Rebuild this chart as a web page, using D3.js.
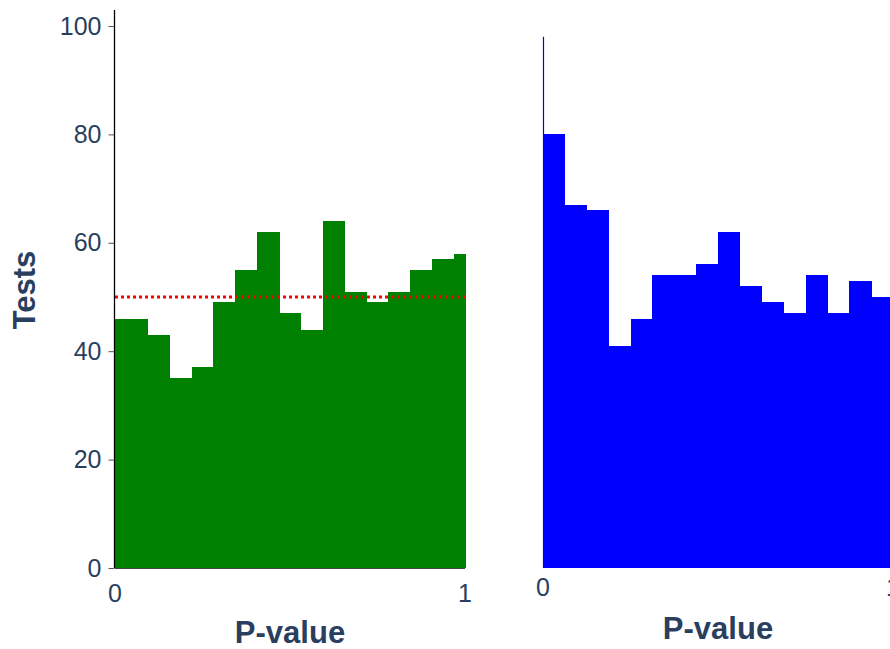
<!DOCTYPE html>
<html>
<head>
<meta charset="utf-8">
<script src="https://cdn.jsdelivr.net/npm/d3@7"></script>
<style>
  html, body { margin: 0; padding: 0; background: #fff; overflow: hidden; }
  svg { display: block; font-family: Arial, "Liberation Sans", sans-serif; }
</style>
</head>
<body>
<svg id="chart" width="890" height="649"></svg>
<script>
// Observed test counts per p-value bin (left: centred bins, right: left-aligned bins)
const leftCounts = [46, 46, 43, 35, 37, 49, 55, 62, 47, 44, 64, 51, 49, 51, 55, 57, 58];
const rightCounts = [80, 67, 66, 41, 46, 54, 54, 56, 62, 52, 49, 47, 54, 47, 53, 50];
const binWidth = 1 / 16;
const leftBinStart = -1 / 32;
const rightBinStart = 0;
const expectedCount = [50];
const yTicks = [0, 20, 40, 60, 80, 100];
const xTicks = [0, 1];

const textColor = "#2a3f5f";
const svg = d3.select("#chart");

const y = d3.scaleLinear().domain([0, 100]).range([568, 26]);
const xLeft = d3.scaleLinear().domain([0, 1]).range([115, 465]);
const xRight = d3.scaleLinear().domain([0, 1]).range([543, 893]);

function bins(counts, start) {
  return counts.map((c, i) => {
    const a = Math.max(0, start + i * binWidth);
    const b = Math.min(1, start + (i + 1) * binWidth);
    return { x0: a, x1: b, count: c };
  });
}

// ---- left panel ----
const gL = svg.append("g");
gL.selectAll("rect")
  .data(bins(leftCounts, leftBinStart))
  .join("rect")
  .attr("shape-rendering", "crispEdges")
  .attr("x", d => xLeft(d.x0))
  .attr("width", d => xLeft(d.x1) - xLeft(d.x0) + 0.5)
  .attr("y", d => y(d.count))
  .attr("height", d => y(0) - y(d.count))
  .attr("fill", "#008000");

// expected-count reference line
gL.selectAll("line.ref")
  .data(expectedCount)
  .join("line")
  .attr("class", "ref")
  .attr("x1", xLeft(0)).attr("x2", xLeft(1))
  .attr("y1", d => y(d)).attr("y2", d => y(d))
  .attr("stroke", "#ff0000")
  .attr("stroke-width", 3)
  .attr("stroke-dasharray", "3,3");

// y axis
const yAxis = d3.axisLeft(y).tickValues(yTicks).tickSize(6).tickPadding(7);
const gYA = gL.append("g").attr("transform", "translate(114.5,0)").call(yAxis);
gYA.select(".domain").remove();
gYA.selectAll(".tick line").attr("stroke", "#555");
gYA.selectAll(".tick text").attr("fill", textColor).attr("font-size", 25)
  .attr("font-family", "Arial, 'Liberation Sans', sans-serif");
gL.append("line")
  .attr("x1", 114.5).attr("x2", 114.5)
  .attr("y1", y(102.95)).attr("y2", y(0))
  .attr("stroke", "#000").attr("stroke-width", 1.3);
// x baseline
gL.append("line")
  .attr("x1", xLeft(0)).attr("x2", xLeft(1))
  .attr("y1", y(0) + 0.5).attr("y2", y(0) + 0.5)
  .attr("stroke", "#444").attr("stroke-width", 1);

// x tick labels
gL.selectAll("text.xt")
  .data(xTicks)
  .join("text")
  .attr("class", "xt")
  .attr("x", d => xLeft(d))
  .attr("y", 602)
  .attr("text-anchor", "middle")
  .attr("font-size", 25)
  .attr("fill", textColor)
  .text(d => d);

gL.append("text")
  .attr("x", 290).attr("y", 643)
  .attr("text-anchor", "middle")
  .attr("font-size", 31).attr("font-weight", "bold")
  .attr("fill", textColor)
  .text("P-value");

gL.append("text")
  .attr("transform", "translate(35,290) rotate(-90)")
  .attr("text-anchor", "middle")
  .attr("font-size", 31).attr("font-weight", "bold")
  .attr("fill", textColor)
  .text("Tests");

// ---- right panel ----
const gR = svg.append("g");
gR.selectAll("rect")
  .data(bins(rightCounts, rightBinStart))
  .join("rect")
  .attr("shape-rendering", "crispEdges")
  .attr("x", d => xRight(d.x0))
  .attr("width", d => xRight(d.x1) - xRight(d.x0) + 0.5)
  .attr("y", d => y(d.count))
  .attr("height", d => y(0) - y(d.count))
  .attr("fill", "#0000ff");

gR.append("line")
  .attr("x1", 543.5).attr("x2", 543.5)
  .attr("y1", y(98.0)).attr("y2", y(0))
  .attr("stroke", "#0000ff").attr("stroke-width", 1.2);

gR.selectAll("text.xt")
  .data(xTicks)
  .join("text")
  .attr("class", "xt")
  .attr("x", d => xRight(d))
  .attr("y", 596)
  .attr("text-anchor", "middle")
  .attr("font-size", 25)
  .attr("fill", textColor)
  .text(d => d);

gR.append("text")
  .attr("x", 718).attr("y", 639)
  .attr("text-anchor", "middle")
  .attr("font-size", 31).attr("font-weight", "bold")
  .attr("fill", textColor)
  .text("P-value");
</script>
</body>
</html>
